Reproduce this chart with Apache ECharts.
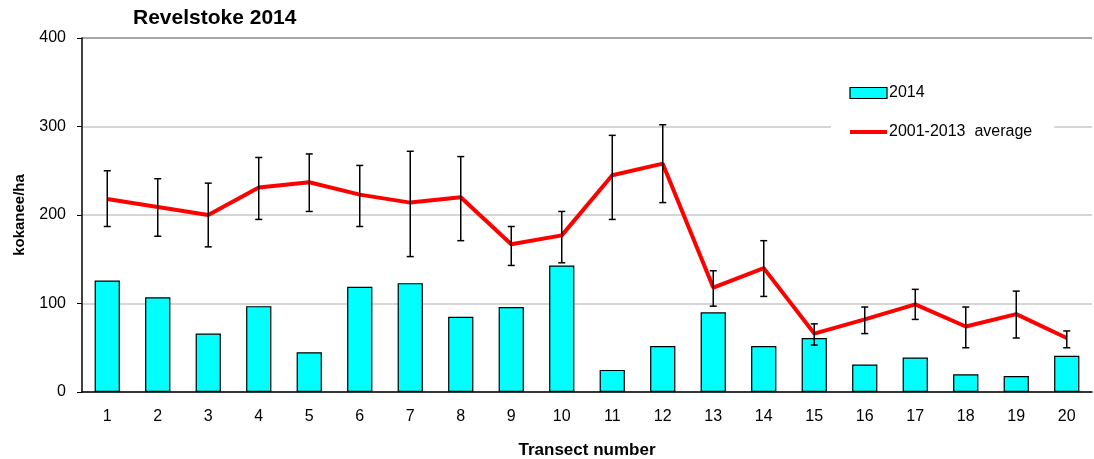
<!DOCTYPE html>
<html>
<head>
<meta charset="utf-8">
<script src="https://cdn.jsdelivr.net/npm/echarts@6/dist/echarts.min.js"></script>
<style>
  html, body { margin: 0; padding: 0; background: #fff; }
  #chart { width: 1094px; height: 459px; }
</style>
</head>
<body>
<div id="chart"></div>
<script>
const transects = ['1','2','3','4','5','6','7','8','9','10','11','12','13','14','15','16','17','18','19','20'];
const density2014 = [126, 107, 66, 97, 45, 119, 123, 85, 96, 143, 25, 52, 90, 52, 61, 31, 39, 20, 18, 41];
const avg = [218, 209, 200, 231, 237, 223, 214, 220, 167, 177, 245, 258, 118, 140, 66, 82, 99, 74, 88, 61];
const errHigh = [250, 241, 236, 265, 269, 256, 272, 266, 187, 204, 290, 302, 137, 171, 77, 96, 116, 96, 114, 69];
const errLow = [187, 176, 164, 195, 204, 187, 153, 171, 143, 146, 195, 214, 97, 108, 53, 66, 82, 50, 61, 50];

const font = 'Liberation Sans, Arial, sans-serif';
const chart = echarts.init(document.getElementById('chart'));

chart.setOption({
  animation: false,
  title: {
    text: 'Revelstoke 2014', left: 128, top: 3,
    textStyle: { fontFamily: font, fontSize: 21, fontWeight: 'bold', color: '#000' }
  },
  legend: {
    orient: 'vertical', left: 831, top: 79,
    padding: [6, 22, 6, 17], itemGap: 23, itemWidth: 37, itemHeight: 11,
    backgroundColor: '#fff',
    textStyle: { fontFamily: font, fontSize: 16, color: '#000', padding: [0, 0, 0, -3] },
    data: [
      { name: '2014', icon: 'rect', itemStyle: { borderColor: '#000', borderWidth: 1.2 } },
      { name: '2001-2013  average', itemStyle: { color: 'rgba(0,0,0,0)', borderWidth: 0 },
        lineStyle: { color: '#ff0000', width: 4 } }
    ]
  },
  grid: { left: 82, right: 2, top: 38, bottom: 67, outerBoundsMode: 'none', containLabel: false },
  xAxis: {
    type: 'category', data: transects,
    name: 'Transect number', nameLocation: 'middle', nameGap: 50,
    nameTextStyle: { fontFamily: font, fontSize: 17, fontWeight: 'bold', color: '#000' },
    axisLine: { lineStyle: { color: '#000', width: 1.5 } },
    axisTick: { alignWithLabel: false, length: 5, lineStyle: { color: '#000' } },
    axisLabel: { fontFamily: font, fontSize: 16, color: '#000', margin: 17 }
  },
  yAxis: {
    type: 'value', min: 0, max: 400, interval: 100,
    name: 'kokanee/ha', nameLocation: 'middle', nameGap: 55,
    nameTextStyle: { fontFamily: font, fontSize: 15, fontWeight: 'bold', color: '#000' },
    axisLine: { show: true, lineStyle: { color: '#000', width: 1.5 } },
    axisTick: { show: true, length: 5, lineStyle: { color: '#000' } },
    axisLabel: { fontFamily: font, fontSize: 16, color: '#000', margin: 16 },
    splitLine: { lineStyle: { color: ['#c8c8c8', '#c8c8c8', '#c8c8c8', '#c8c8c8', '#888'], width: 1.5 } }
  },
  series: [
    {
      name: '2014', type: 'bar', data: density2014, barWidth: '50%',
      itemStyle: { color: '#00ffff', borderColor: '#000', borderWidth: 1.2 }
    },
    {
      name: '2001-2013  average', type: 'line', data: avg, symbol: 'none',
      lineStyle: { color: '#ff0000', width: 4 }, itemStyle: { color: '#ff0000' }, z: 3
    },
    {
      type: 'custom', z: 4, silent: true,
      data: transects.map((t, i) => [i, errLow[i], errHigh[i]]),
      renderItem(params, api) {
        const lo = api.coord([api.value(0), api.value(1)]);
        const hi = api.coord([api.value(0), api.value(2)]);
        const cap = 3.5;
        const st = { stroke: '#000', lineWidth: 1.5 };
        return {
          type: 'group',
          children: [
            { type: 'line', shape: { x1: lo[0], y1: lo[1], x2: hi[0], y2: hi[1] }, style: st },
            { type: 'line', shape: { x1: lo[0] - cap, y1: lo[1], x2: lo[0] + cap, y2: lo[1] }, style: st },
            { type: 'line', shape: { x1: hi[0] - cap, y1: hi[1], x2: hi[0] + cap, y2: hi[1] }, style: st }
          ]
        };
      }
    }
  ]
});
</script>
</body>
</html>
